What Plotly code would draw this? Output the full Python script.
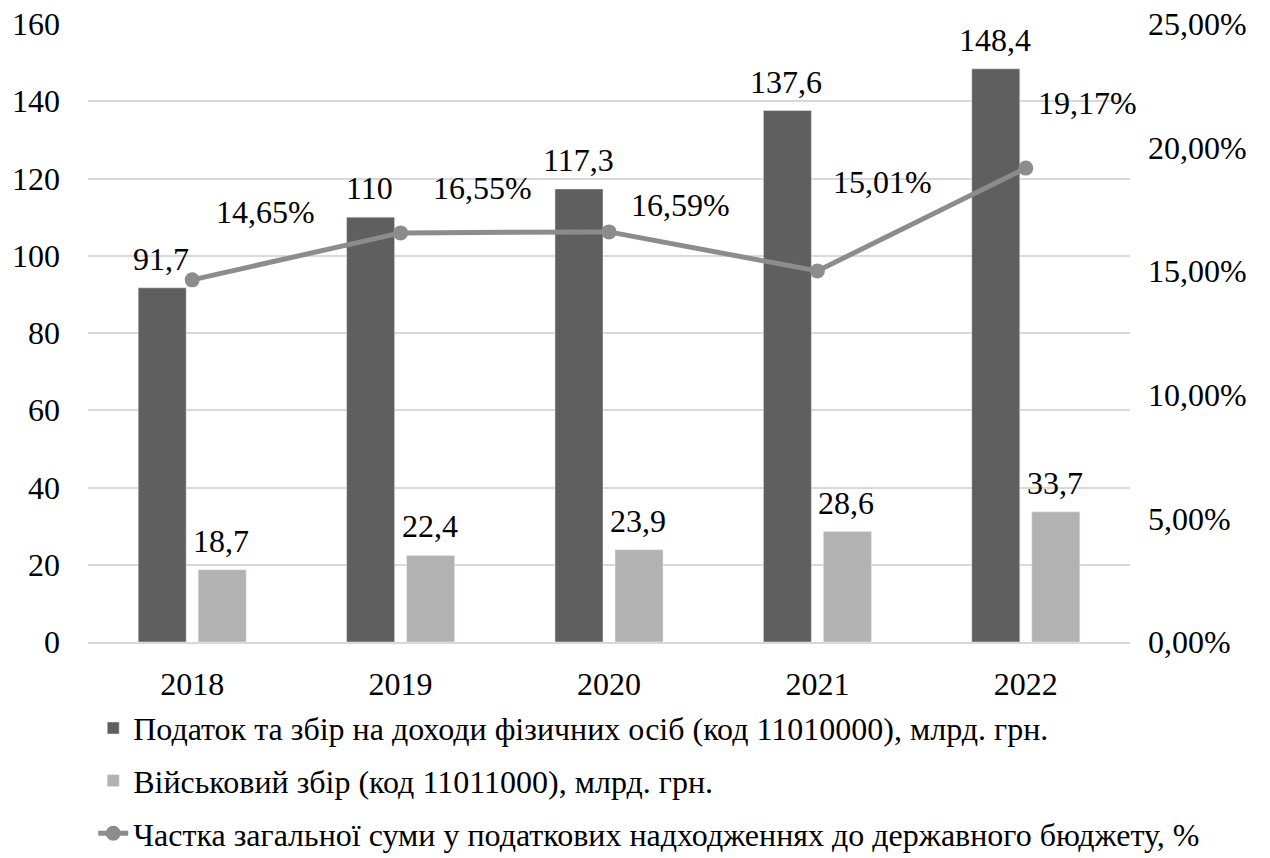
import plotly.graph_objects as go

years = [2018, 2019, 2020, 2021, 2022]
year_labels = ["2018", "2019", "2020", "2021", "2022"]
pdfo = [91.7, 110, 117.3, 137.6, 148.4]
military = [18.7, 22.4, 23.9, 28.6, 33.7]
share = [14.65, 16.55, 16.59, 15.01, 19.17]
share_ticks = [0, 5, 10, 15, 20, 25]

names = [
    "Податок та збір на доходи фізичних осіб (код 11010000), млрд. грн.",
    "Військовий збір (код 11011000), млрд. грн.",
    "Частка загальної суми у податкових надходженнях до державного бюджету, %",
]

FONT = "Liberation Serif, Tinos, Times New Roman, serif"
FS = 32
DARK = "#5f5f5f"
LIGHT = "#b2b2b2"
LINE = "#8c8c8c"

def fmt(v, d=1):
    s = f"{v:.{d}f}".replace(".", ",")
    if d == 1 and s.endswith(",0"):
        s = s[:-2]
    return s

fig = go.Figure()
fig.add_trace(go.Bar(x=years, y=pdfo, name=names[0], marker_color=DARK, legendgroup="a"))
fig.add_trace(go.Bar(x=years, y=military, name=names[1], marker_color=LIGHT, legendgroup="b"))
fig.add_trace(go.Scatter(x=years, y=share, name=names[2], yaxis="y2", mode="lines+markers",
                         line=dict(color=LINE, width=5), marker=dict(color=LINE, size=15),
                         legendgroup="c"))

tf = dict(family=FONT, size=FS, color="#000000")
ann = []
for i, y in enumerate(years):
    ann.append(dict(x=y, y=pdfo[i], xref="x", yref="y", text=fmt(pdfo[i]), showarrow=False,
                    xshift=-31, yshift=29, font=tf))
    ann.append(dict(x=y, y=military[i], xref="x", yref="y", text=fmt(military[i]), showarrow=False,
                    xshift=29, yshift=29, font=tf))

line_offsets = [(73, 68), (82, 45), (71, 27), (65, 89), (62, 65)]
for i, y in enumerate(years):
    dx, dy = line_offsets[i]
    ann.append(dict(x=y, y=share[i], xref="x", yref="y2", text=fmt(share[i], 2) + "%", showarrow=False,
                    xshift=dx, yshift=dy, font=tf))

fig.update_layout(
    width=1270, height=858,
    margin=dict(l=88, r=140, t=24, b=216, autoexpand=False),
    paper_bgcolor="white", plot_bgcolor="white",
    font=tf,
    barmode="group", bargap=0.424, bargroupgap=0.2,
    legend=dict(x=0.005, xanchor="left", y=-0.095, yanchor="top", tracegroupgap=8, font=tf),
    xaxis=dict(range=[2017.5, 2022.5], tickvals=years, ticktext=year_labels, tickfont=tf,
               showgrid=False, showline=True, linecolor="#d9d9d9", linewidth=2, zeroline=False,
               ticklabelstandoff=13),
    yaxis=dict(range=[0, 160], dtick=20, gridcolor="#d9d9d9", gridwidth=2, zeroline=False,
               tickfont=tf, ticklabelstandoff=27),
    yaxis2=dict(range=[0, 25], overlaying="y", side="right", showgrid=False, zeroline=False,
                tickvals=share_ticks, ticktext=[fmt(v, 2) + "%" for v in share_ticks],
                tickfont=tf, ticklabelstandoff=17),
    annotations=ann,
)

fig.write_html("out.html")
